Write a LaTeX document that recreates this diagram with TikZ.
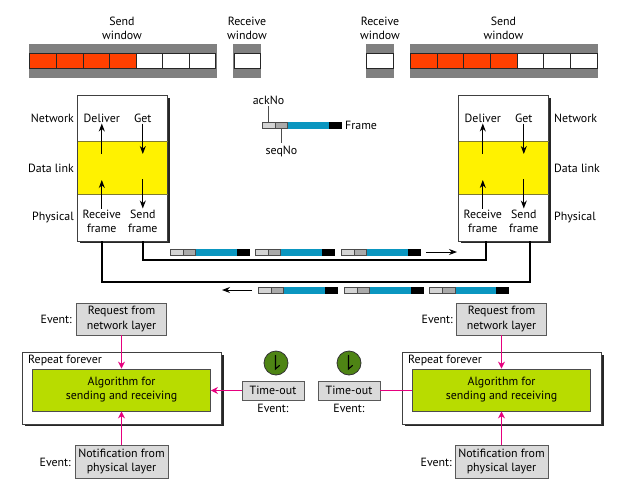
\documentclass[tikz,border=0pt]{standalone}
\usepackage{fontspec}
\setmainfont{PT Sans}
\usetikzlibrary{arrows.meta, positioning, calc}
\definecolor{windowgray}{HTML}{808080}
\definecolor{sentred}{HTML}{FF4000}
\definecolor{framelight}{HTML}{D4D4D4}
\definecolor{framegray}{HTML}{AAAAAA}
\definecolor{frameblue}{HTML}{0A96C0}
\definecolor{eventgray}{HTML}{DADADA}
\definecolor{algogreen}{HTML}{B8DC00}
\definecolor{clockgreen}{HTML}{4E8414}
\definecolor{linkpink}{HTML}{E6007E}
\definecolor{layerline}{HTML}{7F7A30}

\begin{document}
\begin{tikzpicture}[x=1pt, y=-1pt, >=Stealth, font=\fontsize{11.9}{14}\selectfont,
    txt/.style={inner sep=0pt, align=center},
    stackbox/.style={draw=black!75, fill=white, line width=0.8pt, minimum width=90pt, minimum height=146pt, inner sep=0pt},
    loopbox/.style={draw=black!75, fill=white, line width=0.8pt, minimum width=199pt, minimum height=72pt, inner sep=0pt},
    algobox/.style={draw=black!70, fill=algogreen, line width=0.8pt, minimum width=178pt, minimum height=42pt, align=center, inner sep=0pt},
    eventbox/.style={draw=black!65, fill=eventgray, line width=0.8pt, align=center, inner sep=0pt},
    stackarrow/.style={->, line width=1pt, >={Stealth[length=8pt, width=6pt]}},
    wire/.style={line width=2pt},
    linkline/.style={draw=linkpink, line width=1.5pt},
    linkarrow/.style={->, linkline, >={Stealth[length=7pt, width=7pt]}},
    shadow/.style={fill=black!85}]
    \useasboundingbox (0,0) rectangle (621,488);

    % send and receive windows
    \fill[windowgray] (29,43.5) rectangle (216.5,78);
    \fill[windowgray] (233,43.5) rectangle (261,78);
    \fill[windowgray] (366,43.5) rectangle (393.5,78);
    \fill[windowgray] (409.5,43.5) rectangle (597.5,78);
    \foreach \xa/\xb/\col in {29.5/56/sentred, 56/83/sentred, 83/109.5/sentred, 109.5/136/sentred, 136/162.5/white, 162.5/189/white, 189/215.5/white, 234/260/white, 366.5/393/white, 410/437/sentred, 437/463.5/sentred, 463.5/490/sentred, 490/517/sentred, 517/543.5/white, 543.5/570/white, 570/597/white}
        \draw[fill=\col, line width=0.8pt, draw=black!85] (\xa,53) rectangle (\xb,68.5);
    \node[txt] (sendleft) at (122,28) {Send\\window};
    \node[txt] (recvleft) at (247,28) {Receive\\window};
    \node[txt] (recvright) at (380,28) {Receive\\window};
    \node[txt] (sendright) at (503.5,28) {Send\\window};

    % layer stacks
    \foreach \name/\cx/\lx/\anc in {stackleft/122.5/74/east, stackright/503.5/554/west} {
        \fill[shadow] (\cx-43,98) rectangle (\cx+47.5,243);
        \node[stackbox] (\name) at (\cx,168) {};
        \fill[yellow] (\cx-44.5,141) rectangle (\cx+44.5,194);
        \draw[layerline, line width=0.8pt] (\cx-45,141) -- (\cx+45,141) (\cx-45,194) -- (\cx+45,194);
        \node[txt, anchor=\anc] (\name-net) at (\lx,118) {Network};
        \node[txt, anchor=\anc] (\name-dll) at (\lx,168) {Data link};
        \node[txt, anchor=\anc] (\name-phy) at (\lx,218) {Physical};
        \node[txt] (\name-deliver) at (\cx-20.7,118) {Deliver};
        \node[txt] (\name-get) at (\cx+20.3,118) {Get};
        \node[txt] (\name-recv) at (\cx-20.7,221) {Receive\\frame};
        \node[txt] (\name-send) at (\cx+20.3,221) {Send\\frame};
        \coordinate (\name-a) at (\cx-20.7,154);
        \coordinate (\name-b) at (\cx+20.3,154);
        \coordinate (\name-c) at (\cx-20.7,180);
        \coordinate (\name-d) at (\cx+20.3,179);
        \draw[stackarrow] (\name-a) -- ([yshift=-1pt]\name-deliver.south);
        \draw[stackarrow] ([yshift=-1pt]\name-get.south) -- (\name-b);
        \draw[stackarrow] ([yshift=1pt]\name-recv.north) -- (\name-c);
        \draw[stackarrow] (\name-d) -- ([yshift=1pt]\name-send.north);
    }

    % frames
    \foreach \fx/\fy in {262/122, 170/249, 255/249, 341/249, 258/287, 344/287, 429.5/287} {
        \fill[framelight] (\fx,\fy) rectangle ++(13,6.5);
        \fill[framegray] (\fx+13,\fy) rectangle ++(12.5,6.5);
        \fill[frameblue] (\fx+25.5,\fy) rectangle ++(41,6.5);
        \fill[black] (\fx+66.5,\fy) rectangle ++(13,6.5);
        \draw[black!70, line width=0.5pt] (\fx,\fy) rectangle ++(25.5,6.5);
        \draw[black!70, line width=0.5pt] (\fx+13,\fy) -- ++(0,6.5);
    }
    \node[txt] (ackno) at (268.5,100) {ackNo};
    \node[txt] (seqno) at (281.5,151) {seqNo};
    \node[txt, anchor=west] (framelabel) at (345,125) {Frame};
    \coordinate (ackfield) at (268.5,122);
    \coordinate (seqfield) at (281.5,128.5);
    \draw[black!70, line width=0.8pt] ([yshift=-1.5pt]ackno.south) -- (ackfield);
    \draw[black!70, line width=0.8pt] (seqfield) -- ([yshift=2.5pt]seqno.north);

    % channels
    \coordinate (topa) at (142.8,241);
    \coordinate (topb) at (486,241);
    \coordinate (bota) at (101.8,241);
    \coordinate (botb) at (530,241);
    \draw[wire] (topa) -- (142.8,260) -- (486,260) -- (topb);
    \draw[wire] (bota) -- (101.8,282) -- (530,282) -- (botb);
    \coordinate (fwdtail) at (426,252);
    \coordinate (fwdhead) at (457,252);
    \coordinate (backtail) at (252,290);
    \coordinate (backhead) at (222,290);
    \draw[stackarrow] (fwdtail) -- (fwdhead);
    \draw[stackarrow] (backtail) -- (backhead);

    % sender and receiver sides
    \foreach \name/\cx/\tx/\ck/\ex/\exb in {left/121.5/273/276/72/71, right/501.5/349/349/453/452} {
        \fill[shadow] (\cx-97,354.5) rectangle (\cx+102,426);
        \node[loopbox] (loop\name) at (\cx,388) {};
        \node[txt, anchor=west] (repeat\name) at (\cx-93.5,360) {Repeat forever};
        \node[algobox] (algo\name) at (\cx,390) {Algorithm for\\sending and receiving};
        \node[eventbox, minimum width=90pt, minimum height=32pt] (req\name) at (\cx,319) {Request from\\network layer};
        \node[eventbox, minimum width=93pt, minimum height=33pt] (note\name) at (\cx,461.5) {Notification from\\physical layer};
        \node[txt, anchor=east] (evreq\name) at (\ex,319) {Event:};
        \node[txt, anchor=east] (evnote\name) at (\exb,462) {Event:};
        \node[eventbox, minimum width=62pt, minimum height=19pt] (time\name) at (\tx,390.5) {Time-out};
        \node[txt] (evtime\name) at (\tx,408) {Event:};
        \node[draw=black!80, fill=clockgreen, line width=0.8pt, circle, minimum size=24pt, inner sep=0pt] (clock\name) at (\ck,363) {};
        \draw[line width=1.1pt, line cap=round] (\ck-0.5,355.5) -- (\ck-0.5,369) -- (\ck+3.5,365.5);
        \draw[linkarrow] (req\name) -- (algo\name);
        \draw[linkarrow] (note\name) -- (algo\name);
    }
    \draw[linkarrow] (timeleft) -- (timeleft -| algoleft.east);
    \draw[linkline] (timeright) -- (timeright -| algoright.west);
\end{tikzpicture}
\end{document}
